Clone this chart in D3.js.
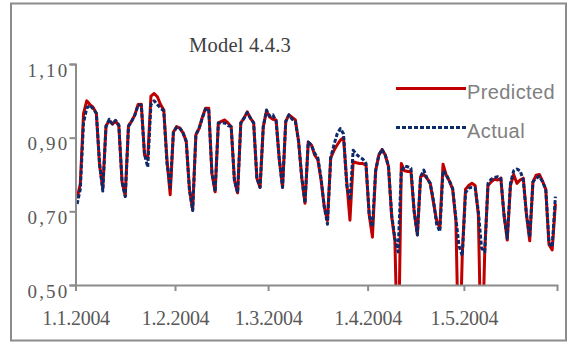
<!DOCTYPE html>
<html>
<head>
<meta charset="utf-8">
<script src="https://cdn.jsdelivr.net/npm/d3@7"></script>
<style>
  body { margin: 0; background: #fff; }
  svg { display: block; }
</style>
</head>
<body>
<svg width="572" height="345"></svg>
<script>
// daily values, 1.1.2004 onwards
const firstDay = "2004-01-01";
const lastAxisDay = "2004-05-30";

const actual = [
  0.720, 0.760, 0.940, 0.980, 0.988, 0.978, 0.966, 0.830, 0.755, 0.930,
  0.950, 0.937, 0.947, 0.935, 0.780, 0.740, 0.930, 0.945, 0.962, 0.988,
  0.989, 0.855, 0.820, 0.990, 1.000, 0.990, 0.980, 0.973, 0.830, 0.765,
  0.915, 0.928, 0.926, 0.913, 0.890, 0.758, 0.702, 0.908, 0.925, 0.953,
  0.977, 0.978, 0.803, 0.753, 0.940, 0.940, 0.940, 0.933, 0.930, 0.785,
  0.750, 0.940, 0.953, 0.968, 0.953, 0.940, 0.790, 0.765, 0.930, 0.975,
  0.958, 0.962, 0.945, 0.840, 0.765, 0.944, 0.962, 0.950, 0.944, 0.890,
  0.790, 0.722, 0.888, 0.880, 0.858, 0.845, 0.790, 0.712, 0.665, 0.845,
  0.880, 0.910, 0.925, 0.910, 0.770, 0.730, 0.866, 0.855, 0.847, 0.842,
  0.830, 0.690, 0.658, 0.810, 0.853, 0.868, 0.853, 0.822, 0.690, 0.627,
  0.590, 0.810, 0.823, 0.821, 0.817, 0.700, 0.636, 0.794, 0.812, 0.790,
  0.776, 0.730, 0.665, 0.645, 0.810, 0.800, 0.782, 0.762, 0.680, 0.605,
  0.580, 0.750, 0.763, 0.765, 0.763, 0.700, 0.600, 0.590, 0.776, 0.787,
  0.792, 0.794, 0.790, 0.690, 0.627, 0.776, 0.810, 0.815, 0.810, 0.785,
  0.690, 0.630, 0.780, 0.790, 0.795, 0.780, 0.760, 0.615, 0.603, 0.740
];

const predicted = [
  0.735, 0.775, 0.965, 1.000, 0.990, 0.982, 0.966, 0.825, 0.762, 0.932,
  0.946, 0.937, 0.945, 0.932, 0.780, 0.742, 0.932, 0.945, 0.962, 0.990,
  0.991, 0.853, 0.842, 1.013, 1.020, 1.011, 0.990, 0.975, 0.840, 0.745,
  0.915, 0.930, 0.926, 0.913, 0.890, 0.760, 0.704, 0.908, 0.925, 0.955,
  0.980, 0.980, 0.803, 0.753, 0.940, 0.944, 0.948, 0.940, 0.930, 0.785,
  0.750, 0.940, 0.953, 0.970, 0.953, 0.940, 0.790, 0.765, 0.930, 0.972,
  0.956, 0.950, 0.948, 0.840, 0.765, 0.944, 0.962, 0.955, 0.948, 0.890,
  0.790, 0.722, 0.888, 0.880, 0.853, 0.840, 0.785, 0.712, 0.675, 0.845,
  0.865, 0.880, 0.893, 0.900, 0.780, 0.676, 0.835, 0.832, 0.830, 0.830,
  0.825, 0.690, 0.630, 0.810, 0.853, 0.868, 0.853, 0.822, 0.685, 0.620,
  0.250, 0.830, 0.810, 0.808, 0.808, 0.700, 0.636, 0.794, 0.800, 0.790,
  0.776, 0.725, 0.675, 0.655, 0.828, 0.798, 0.782, 0.760, 0.675, 0.250,
  0.585, 0.760, 0.770, 0.776, 0.770, 0.690, 0.250, 0.595, 0.770, 0.780,
  0.787, 0.785, 0.790, 0.690, 0.622, 0.770, 0.800, 0.776, 0.785, 0.790,
  0.690, 0.620, 0.780, 0.798, 0.800, 0.782, 0.760, 0.610, 0.595, 0.720
];

const yTicks = [0.5, 0.7, 0.9, 1.1];
const xTicks = ["2004-01-01", "2004-02-01", "2004-03-01", "2004-04-01", "2004-05-01"];
const seriesNames = ["Predicted", "Actual"];
const titleText = "Model 4.4.3";

const svg = d3.select("svg");
const plot = { left: 75.5, right: 557, top: 64, bottom: 285 };
const serif = "'Liberation Serif', 'Times New Roman', serif";

const parse = d3.utcParse("%Y-%m-%d");
const day0 = parse(firstDay);

const x = d3.scaleUtc()
  .domain([day0, parse(lastAxisDay)])
  .range([plot.left, plot.right]);
const y = d3.scaleLinear()
  .domain([0.5, 1.1])
  .range([plot.bottom, plot.top]);

// outer frame
svg.append("rect")
  .attr("x", 11).attr("y", 3.5)
  .attr("width", 555).attr("height", 337)
  .attr("fill", "#fff")
  .attr("stroke", "#8c8c8c")
  .attr("stroke-width", 2);

svg.append("text")
  .attr("x", 240).attr("y", 52)
  .attr("text-anchor", "middle")
  .attr("font-family", serif)
  .attr("font-size", 20.5)
  .attr("letter-spacing", 0.2)
  .attr("fill", "#404040")
  .text(titleText);

svg.append("defs").append("clipPath").attr("id", "plotclip")
  .append("rect")
  .attr("x", plot.left).attr("y", plot.top)
  .attr("width", plot.right - plot.left)
  .attr("height", plot.bottom - plot.top);

const toPoints = vals => vals.map((v, i) => ({
  date: d3.utcHour.offset(d3.utcDay.offset(day0, i), 12),
  value: v
}));

const line = d3.line()
  .x(d => x(d.date))
  .y(d => y(d.value));

const lines = svg.append("g").attr("clip-path", "url(#plotclip)");

lines.append("path")
  .datum(toPoints(predicted))
  .attr("fill", "none")
  .attr("stroke", "#c00000")
  .attr("stroke-width", 3)
  .attr("stroke-linejoin", "round")
  .attr("d", line);

lines.append("path")
  .datum(toPoints(actual))
  .attr("fill", "none")
  .attr("stroke", "#0d2a6b")
  .attr("stroke-width", 3)
  .attr("stroke-dasharray", "4,2")
  .attr("stroke-linejoin", "round")
  .attr("d", line);

// axes
const yAxis = svg.append("g")
  .attr("transform", `translate(${plot.left},0)`)
  .call(d3.axisLeft(y)
    .tickValues(yTicks)
    .tickSize(6)
    .tickPadding(0)
    .tickFormat(d => d3.format(".2f")(d).replace(".", ",")));

yAxis.selectAll(".tick text")
  .attr("dy", 12)
  .attr("font-size", 19)
  .attr("letter-spacing", 2.2);

const xAxis = svg.append("g")
  .attr("transform", `translate(0,${plot.bottom})`)
  .call(d3.axisBottom(x)
    .tickValues(xTicks.map(parse))
    .tickSize(6)
    .tickPadding(20)
    .tickFormat(d => `${d.getUTCDate()}.${d.getUTCMonth() + 1}.${d.getUTCFullYear()}`));

xAxis.selectAll(".tick text")
  .attr("font-size", 20)
  .attr("letter-spacing", -0.3);

[yAxis, xAxis].forEach(g => {
  g.select(".domain").attr("stroke", "#8c8c8c").attr("stroke-width", 2);
  g.selectAll(".tick line").attr("stroke", "#8c8c8c").attr("stroke-width", 2);
  g.selectAll(".tick text")
    .attr("font-family", serif)
    .attr("fill", "#595959");
});

// legend
const legend = svg.append("g");
const legendItems = [
  { name: seriesNames[0], color: "#c00000", dash: null, y: 88.5 },
  { name: seriesNames[1], color: "#0d2a6b", dash: "4,2", y: 127.5 }
];
legendItems.forEach(it => {
  legend.append("line")
    .attr("x1", 396).attr("x2", 466)
    .attr("y1", it.y).attr("y2", it.y)
    .attr("stroke", it.color)
    .attr("stroke-width", 3)
    .attr("stroke-dasharray", it.dash);
  legend.append("text")
    .attr("x", 467).attr("y", it.y + 10.5)
    .attr("font-family", "'Liberation Sans', Arial, sans-serif")
    .attr("font-size", 20)
    .attr("letter-spacing", 0.4)
    .attr("fill", "#808080")
    .text(it.name);
});
</script>
</body>
</html>
